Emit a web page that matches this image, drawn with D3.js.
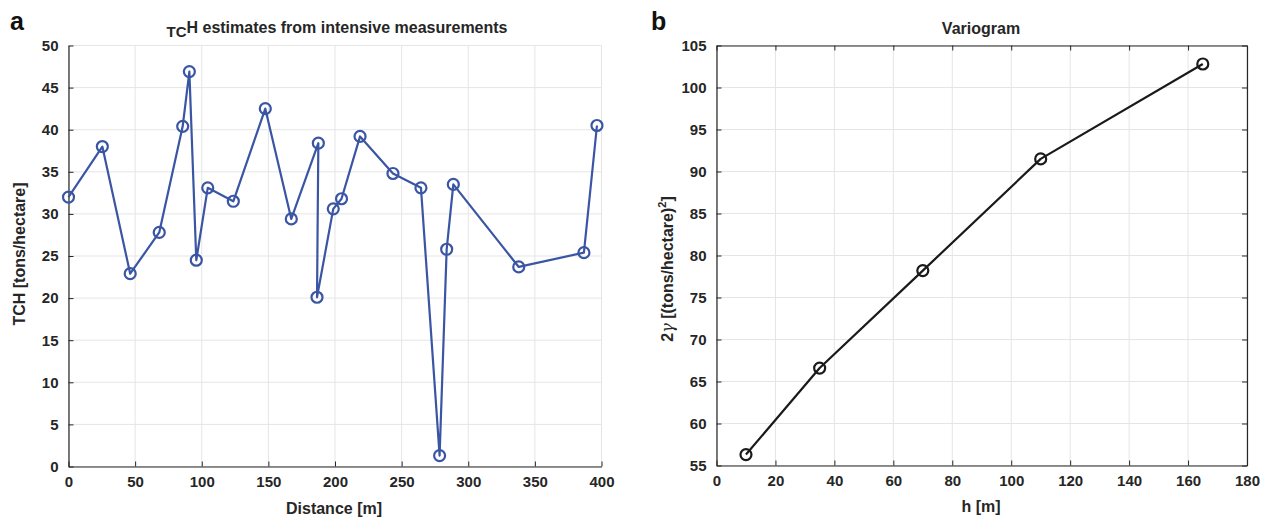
<!DOCTYPE html>
<html><head><meta charset="utf-8">
<script src="https://cdn.jsdelivr.net/npm/d3@7"></script>
<style>
body{margin:0;background:#fff;}
svg{display:block;font-family:"Liberation Sans",Arial,Helvetica,sans-serif;}
.tick text{font-weight:bold;font-size:15px;fill:#262626;}
</style></head>
<body><svg id="c" width="1272" height="519"></svg>
<script>
// Panel a data
const distance = [0, 25.4, 46.3, 68.1, 85.7, 90.7, 95.9, 104.5, 123.7, 147.7, 167.2, 187.5, 186.5, 198.7, 204.9, 218.8, 243.5, 264.5, 278.5, 283.8, 288.8, 337.9, 386.8, 396.6];
const tch = [32.0, 38.0, 22.9, 27.8, 40.4, 46.9, 24.5, 33.1, 31.5, 42.5, 29.4, 38.4, 20.1, 30.6, 31.8, 39.2, 34.8, 33.1, 1.3, 25.8, 33.5, 23.7, 25.4, 40.5];
const xTicksA = [0, 50, 100, 150, 200, 250, 300, 350, 400];
const yTicksA = [0, 5, 10, 15, 20, 25, 30, 35, 40, 45, 50];
// Panel b data
const lag = [10, 35, 70, 110, 165];
const variogram = [56.3, 66.6, 78.2, 91.5, 102.8];
const xTicksB = [0, 20, 40, 60, 80, 100, 120, 140, 160, 180];
const yTicksB = [55, 60, 65, 70, 75, 80, 85, 90, 95, 100, 105];

const svg = d3.select("#c");
const axisCol = "#262626", gridCol = "#e5e5e5";

function panel(opt){
  const g = svg.append("g");
  const x = d3.scaleLinear().domain(opt.xd).range([opt.x0, opt.x1]);
  const y = d3.scaleLinear().domain(opt.yd).range([opt.y0, opt.y1]);
  // grid
  g.append("g").selectAll("line").data(opt.xt).join("line")
    .attr("x1", d => x(d)).attr("x2", d => x(d)).attr("y1", opt.y0).attr("y2", opt.y1)
    .attr("stroke", gridCol).attr("stroke-width", 1);
  g.append("g").selectAll("line").data(opt.yt).join("line")
    .attr("y1", d => y(d)).attr("y2", d => y(d)).attr("x1", opt.x0).attr("x2", opt.x1)
    .attr("stroke", gridCol).attr("stroke-width", 1);
  // axes
  const ax = g.append("g").attr("transform", `translate(0,${opt.y0})`)
    .call(d3.axisBottom(x).tickValues(opt.xt).tickSizeInner(-5).tickSizeOuter(0).tickPadding(10));
  const ay = g.append("g").attr("transform", `translate(${opt.x0},0)`)
    .call(d3.axisLeft(y).tickValues(opt.yt).tickSizeInner(-5).tickSizeOuter(0).tickPadding(10));
  [ax, ay].forEach(a => { a.select(".domain").attr("stroke", axisCol).attr("stroke-width", 1.2);
    a.selectAll(".tick line").attr("stroke", axisCol); });
  if (opt.box){
    const at = g.append("g").attr("transform", `translate(0,${opt.y1})`)
      .call(d3.axisTop(x).tickValues(opt.xt).tickSizeInner(-5).tickSizeOuter(0).tickFormat(""));
    const ar = g.append("g").attr("transform", `translate(${opt.x1},0)`)
      .call(d3.axisRight(y).tickValues(opt.yt).tickSizeInner(-5).tickSizeOuter(0).tickFormat(""));
    [at, ar].forEach(a => { a.select(".domain").attr("stroke", axisCol).attr("stroke-width", 1.2);
      a.selectAll(".tick line").attr("stroke", axisCol); });
  }
  const pts = opt.xs.map((d, i) => [d, opt.ys[i]]);
  g.append("path").datum(pts)
    .attr("d", d3.line().x(d => x(d[0])).y(d => y(d[1])))
    .attr("fill", "none").attr("stroke", opt.col).attr("stroke-width", 2.2).attr("stroke-linejoin", "round");
  g.selectAll("circle").data(pts).join("circle")
    .attr("cx", d => x(d[0])).attr("cy", d => y(d[1])).attr("r", 5.5)
    .attr("fill", "none").attr("stroke", opt.col).attr("stroke-width", 2.2);
  return g;
}

panel({xd:[0,400], yd:[0,50], x0:68.5, x1:601.5, y0:466.5, y1:45.5, xt:xTicksA, yt:yTicksA,
  xs:distance, ys:tch, col:"#3a55a4", box:false});
panel({xd:[0,180], yd:[55,105], x0:716.5, x1:1247, y0:465.5, y1:45.5, xt:xTicksB, yt:yTicksB,
  xs:lag, ys:variogram, col:"#1a1a1a", box:true});

const txt = (x, y, s, size, rot) => {
  const t = svg.append("text").attr("x", x).attr("y", y).attr("text-anchor", "middle")
    .attr("font-weight", "bold").attr("font-size", size).attr("fill", "#262626");
  if (rot) t.attr("transform", `rotate(-90,${x},${y})`);
  t.text(s); return t;
};
// panel letters
svg.append("text").attr("x", 10).attr("y", 30).attr("font-weight", "bold").attr("font-size", 25).attr("fill", "#111").text("a");
svg.append("text").attr("x", 651).attr("y", 30).attr("font-weight", "bold").attr("font-size", 25).attr("fill", "#111").text("b");
// titles
const t1 = svg.append("text").attr("x", 337).attr("y", 33).attr("text-anchor", "middle")
  .attr("font-weight", "bold").attr("font-size", 16).attr("fill", "#262626");
t1.append("tspan").attr("dy", 4).attr("font-size", 15).text("TC");
t1.append("tspan").attr("dy", -4).text("H estimates from intensive measurements");
txt(981, 34, "Variogram", 16);
// axis labels
txt(334, 514, "Distance [m]", 16);
txt(25, 254, "TCH [tons/hectare]", 16, true);
txt(981, 512, "h [m]", 16);
const yl = svg.append("text").attr("x", 673).attr("y", 269).attr("text-anchor", "middle")
  .attr("font-weight", "bold").attr("font-size", 16).attr("fill", "#262626")
  .attr("transform", "rotate(-90,673,269)");
yl.append("tspan").text("2");
yl.append("tspan").attr("font-style", "italic").attr("font-weight", "normal").attr("font-family", "DejaVu Serif").text("γ");
yl.append("tspan").text(" [(tons/hectare)");
yl.append("tspan").attr("dy", -7).attr("font-size", 11).text("2");
yl.append("tspan").attr("dy", 7).text("]");
</script></body></html>
